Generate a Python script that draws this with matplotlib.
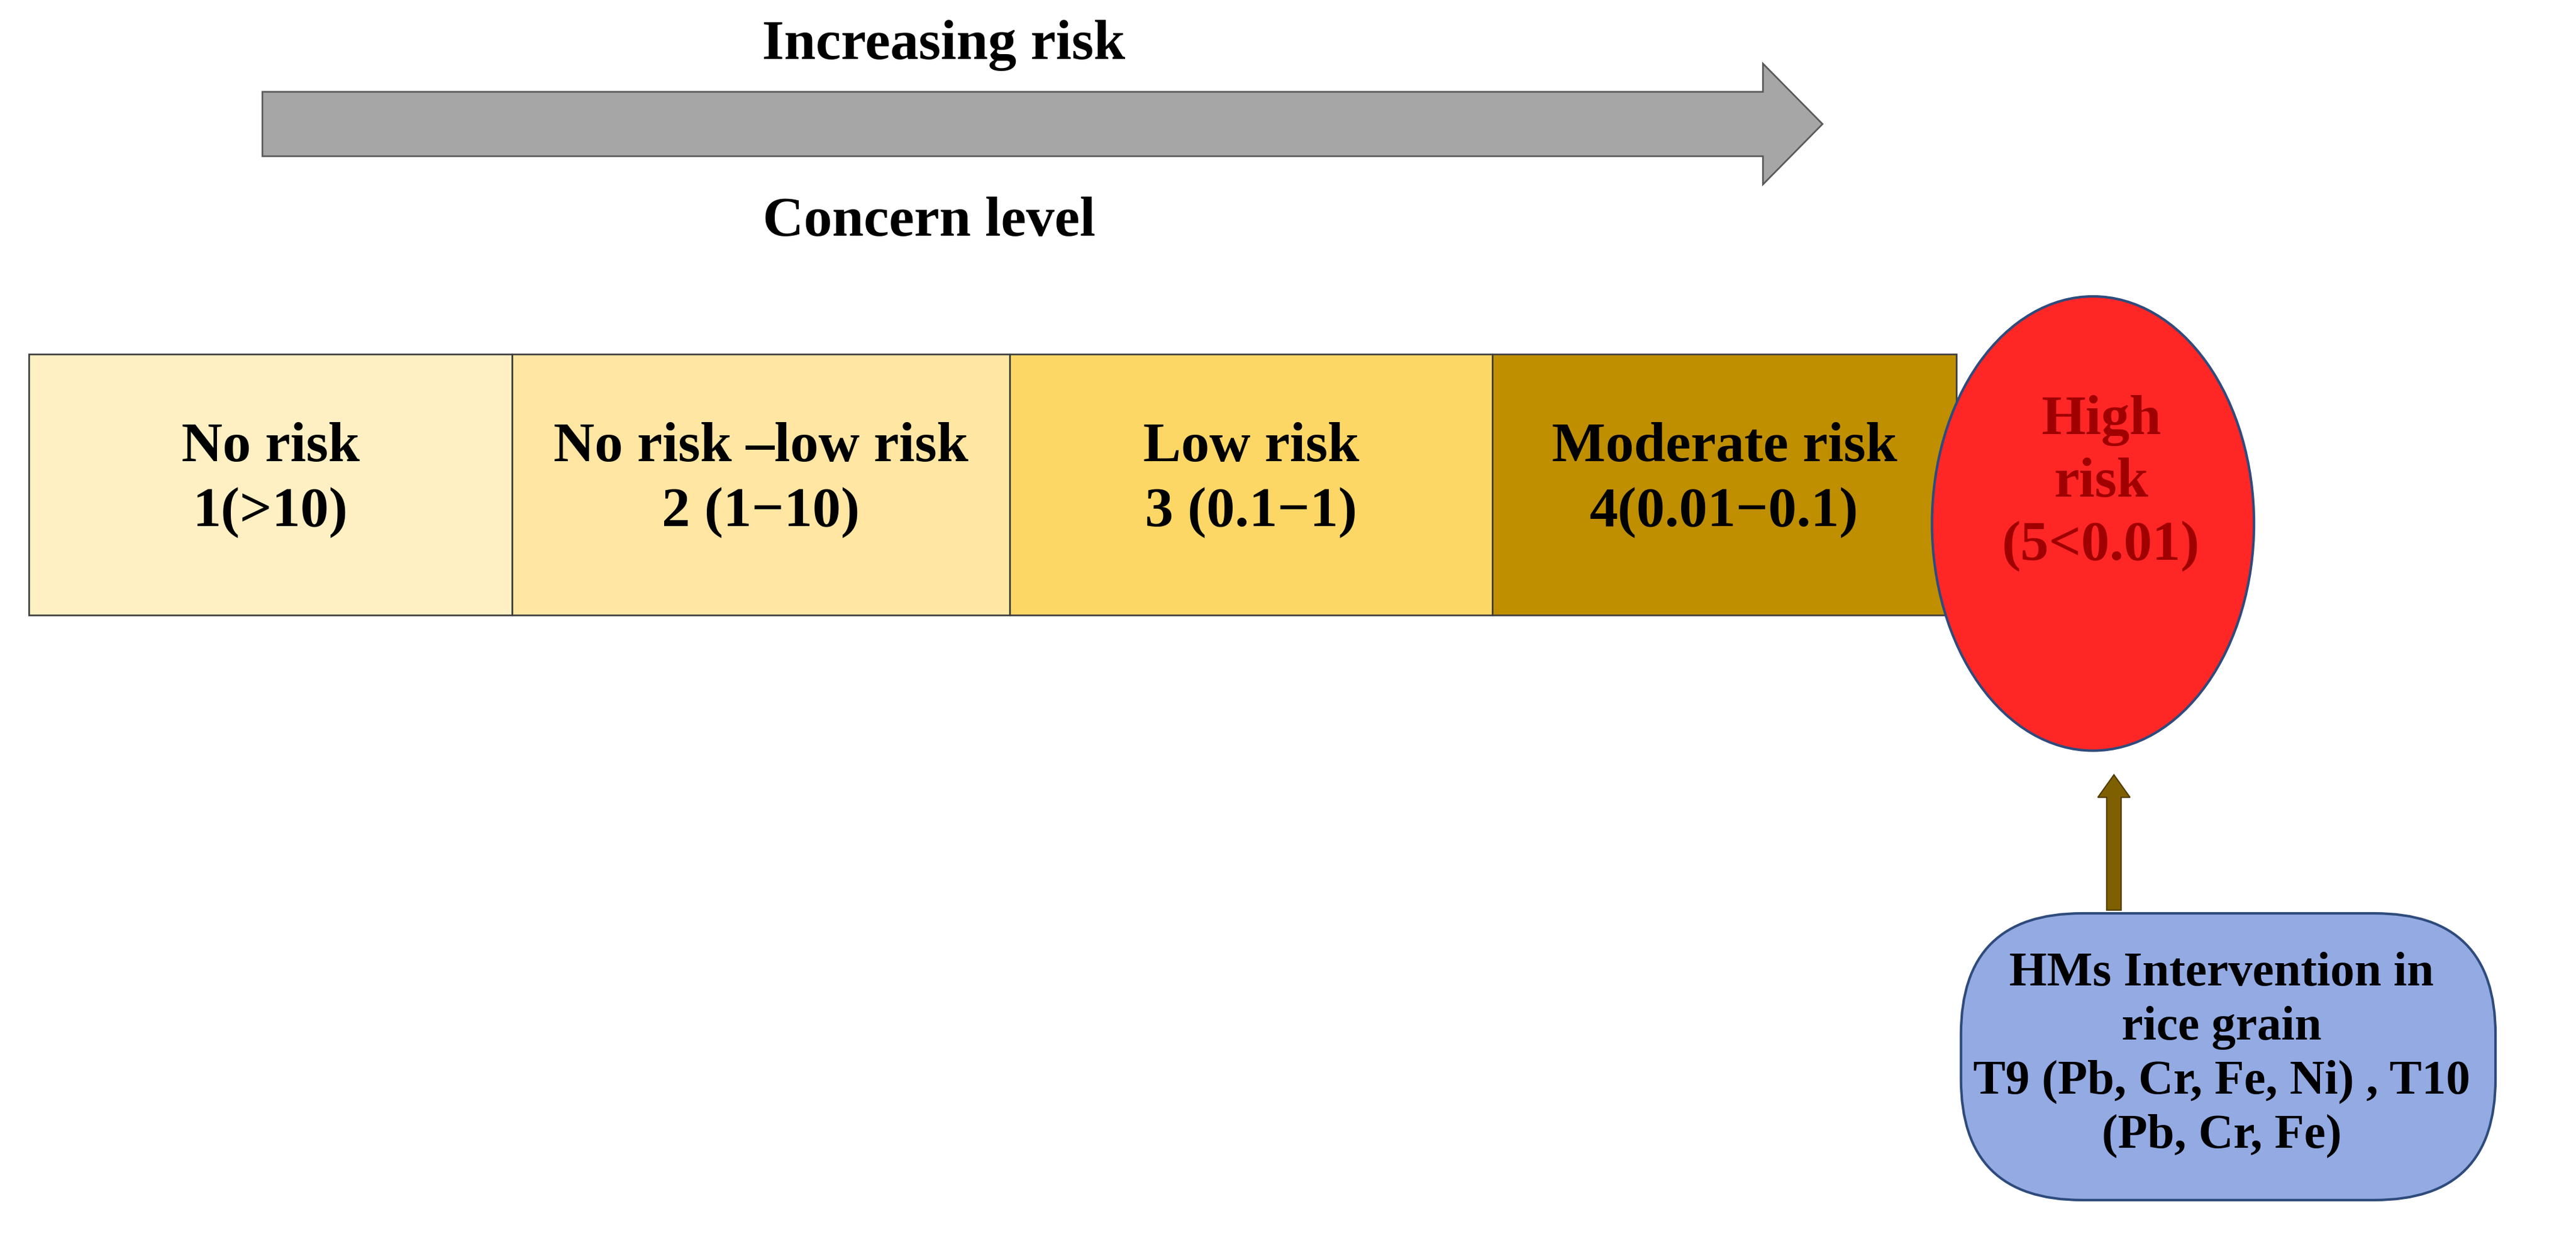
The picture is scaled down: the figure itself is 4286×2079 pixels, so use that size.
import matplotlib.pyplot as plt
from matplotlib.patches import Rectangle, Ellipse, FancyBboxPatch, FancyArrow

# risk categories
labels = ["No risk\n1(>10)", "No risk \u2013low risk\n2 (1\u221210)", "Low risk\n3 (0.1\u22121)", "Moderate risk\n4(0.01\u22120.1)"]
colors = ["#FFF0C4", "#FFE6A3", "#FDD766", "#BF8F00"]
edges = [18, 318, 627, 927, 1215]
high_label = "High\nrisk\n(5<0.01)"
note = "HMs Intervention in\nrice grain\nT9 (Pb, Cr, Fe, Ni) , T10\n(Pb, Cr, Fe)"

plt.rcParams['font.family'] = ['Liberation Serif', 'DejaVu Serif']
fig = plt.figure(figsize=(42.86, 20.79), dpi=100)
ax = fig.add_axes([0, 0, 1, 1])
ax.set_xlim(0, 1600)
ax.set_ylim(776, 0)
ax.axis('off')
fs = 68

# top arrow
ax.add_patch(FancyArrow(163, 77, 969, 0, width=40, head_width=75, head_length=37,
                        length_includes_head=True, facecolor='#A6A6A6', edgecolor='#595959', linewidth=2))
ax.text(586, 28, "Increasing risk", ha='center', va='center', fontsize=fs, weight='bold')
ax.text(577, 138, "Concern level", ha='center', va='center', fontsize=fs, weight='bold')

# boxes
for i, lab in enumerate(labels):
    x0, x1 = edges[i], edges[i + 1]
    ax.add_patch(Rectangle((x0, 220), x1 - x0, 162, facecolor=colors[i], edgecolor='#404040', linewidth=2))
    ax.text((x0 + x1) / 2, 298, lab, ha='center', va='center', fontsize=fs, weight='bold',
            linespacing=1.35)

# high risk ellipse
ax.add_patch(Ellipse((1300, 325), 200, 282, facecolor='#FF2626', edgecolor='#2F4B7C', linewidth=3))
ax.text(1305, 300, high_label, ha='center', va='center', fontsize=fs, weight='bold',
        color='#A00000', linespacing=1.3)

# small arrow
ax.add_patch(FancyArrow(1313, 565, 0, -84, width=9, head_width=20, head_length=14,
                        length_includes_head=True, facecolor='#7F6000', edgecolor='#4D3A00', linewidth=1.5))

# note box
ax.add_patch(FancyBboxPatch((1218, 567), 332, 178, boxstyle="round,pad=0,rounding_size=75",
                            facecolor='#93AAE3', edgecolor='#2F4B7C', linewidth=3))
ax.text(1380, 655, note, ha='center', va='center', fontsize=58, weight='bold', linespacing=1.3)

fig.savefig("out.png", dpi=100)
plt.close()
